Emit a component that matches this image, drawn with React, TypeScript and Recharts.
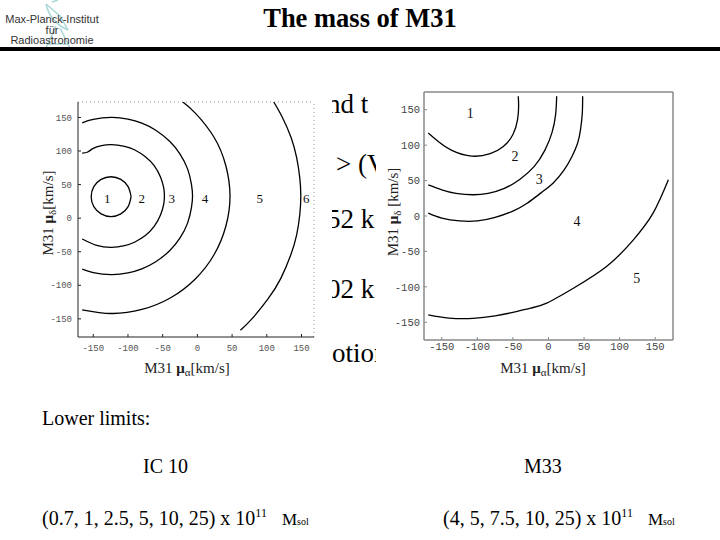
import React from 'react';
import { ScatterChart, Scatter, XAxis, YAxis, ReferenceLine, Label } from 'recharts';

const SERIF = '"Liberation Serif", "Times New Roman", serif';
const MONO = '"Liberation Mono", "DejaVu Sans Mono", monospace';
const SANS = '"Liberation Sans", Arial, sans-serif';

const axisTicks = [-150, -100, -50, 0, 50, 100, 150];

// IC 10 panel (left): contour lines
const ic10Contour1 = [
  { x: -95.5, y: 32 }, { x: -99.8, y: 46.9 }, { x: -110.3, y: 57.7 }, { x: -124.5, y: 61.7 },
  { x: -138.7, y: 57.7 }, { x: -149.2, y: 46.9 }, { x: -153, y: 32 }, { x: -149.2, y: 17.1 },
  { x: -138.7, y: 6.3 }, { x: -124.5, y: 2.3 }, { x: -110.3, y: 6.3 }, { x: -99.8, y: 17.1 },
  { x: -95.5, y: 32 },
];
const ic10Contour2 = [
  { x: -166, y: 97 }, { x: -158, y: 98.5 }, { x: -150, y: 104 }, { x: -138, y: 108 },
  { x: -124, y: 109.5 }, { x: -105, y: 107 }, { x: -90, y: 101.5 }, { x: -75, y: 91.5 },
  { x: -62, y: 78 }, { x: -53, y: 61 }, { x: -48.5, y: 45 }, { x: -47.5, y: 33 },
  { x: -48.5, y: 21 }, { x: -53, y: 5 }, { x: -62, y: -12 }, { x: -75, y: -26 },
  { x: -90, y: -35.5 }, { x: -105, y: -41 }, { x: -124, y: -43.5 }, { x: -145, y: -40.5 },
  { x: -166, y: -31 },
];
const ic10Contour3 = [
  { x: -166, y: 142 }, { x: -150, y: 147 }, { x: -124, y: 150 }, { x: -100, y: 147.5 },
  { x: -80, y: 141.5 }, { x: -60, y: 131 }, { x: -40, y: 114.5 }, { x: -25, y: 95.5 },
  { x: -14, y: 73 }, { x: -8.5, y: 50 }, { x: -7, y: 33 }, { x: -8.5, y: 16 },
  { x: -14, y: -7 }, { x: -25, y: -29.5 }, { x: -40, y: -48.5 }, { x: -60, y: -65 },
  { x: -80, y: -75.5 }, { x: -100, y: -81.5 }, { x: -124, y: -84 }, { x: -150, y: -81 },
  { x: -166, y: -76 },
];
const ic10Contour4 = [
  { x: -21, y: 173 }, { x: -3, y: 156.5 }, { x: 24, y: 120.5 }, { x: 41, y: 78 },
  { x: 47, y: 33 }, { x: 41, y: -12 }, { x: 24, y: -54.5 }, { x: -3, y: -90.5 },
  { x: -38.5, y: -118.5 }, { x: -80, y: -136 }, { x: -124, y: -142 }, { x: -166, y: -136.5 },
];
const ic10Contour5 = [
  { x: 110, y: 173 }, { x: 122.5, y: 150 }, { x: 135, y: 120 }, { x: 143, y: 90 },
  { x: 147.5, y: 60 }, { x: 149, y: 33 }, { x: 147.5, y: 5 }, { x: 143, y: -25 },
  { x: 134.5, y: -55 }, { x: 120, y: -90 }, { x: 102, y: -120 }, { x: 78.5, y: -150 },
  { x: 62, y: -167 },
];
const ic10Regions = [
  { x: -130, y: 30, t: '1' }, { x: -80, y: 30, t: '2' }, { x: -37, y: 30, t: '3' },
  { x: 11, y: 30, t: '4' }, { x: 90, y: 30, t: '5' }, { x: 157, y: 30, t: '6' },
];

// M33 panel (right)
const m33Contour1 = [
  { x: -169, y: 117 }, { x: -155, y: 105 }, { x: -136, y: 92.5 }, { x: -108, y: 84.5 },
  { x: -82, y: 88 }, { x: -63.5, y: 98 }, { x: -50, y: 115 }, { x: -43.5, y: 136 },
  { x: -42, y: 155 }, { x: -42.5, y: 169 },
];
const m33Contour2 = [
  { x: -169, y: 44 }, { x: -150, y: 37 }, { x: -130, y: 32 }, { x: -106, y: 30 },
  { x: -85, y: 32 }, { x: -62, y: 39 }, { x: -40, y: 52 }, { x: -20, y: 70 },
  { x: -5, y: 93 }, { x: 5, y: 118 }, { x: 10, y: 143 }, { x: 11.5, y: 169 },
];
const m33Contour3 = [
  { x: -169, y: 4 }, { x: -150, y: -3 }, { x: -125, y: -7 }, { x: -100, y: -7 },
  { x: -75, y: -2 }, { x: -50, y: 7 }, { x: -30, y: 18 }, { x: -10, y: 33 },
  { x: 7, y: 47 }, { x: 22, y: 65 }, { x: 33, y: 84 }, { x: 41, y: 103 },
  { x: 45, y: 122 }, { x: 47.5, y: 145 }, { x: 48, y: 169 },
];
const m33Contour4 = [
  { x: -169, y: -139.5 }, { x: -140, y: -144 }, { x: -106, y: -144.5 }, { x: -75, y: -141 },
  { x: -50, y: -136 }, { x: -25, y: -130 }, { x: -2.5, y: -123 }, { x: 35, y: -102 },
  { x: 82, y: -71 }, { x: 119, y: -34 }, { x: 147, y: 4 }, { x: 168.5, y: 51 },
];
const m33Regions = [
  { x: -110, y: 145, t: '1' }, { x: -47, y: 84, t: '2' }, { x: -13, y: 51, t: '3' },
  { x: 40, y: -8, t: '4' }, { x: 124, y: -88, t: '5' },
];

const ic10Masses = '(0.7, 1, 2.5, 5, 10, 25) x 10';
const m33Masses = '(4, 5, 7.5, 10, 25) x 10';

const NoDot = () => <g />;

const regionLabel = (fontSize: number) => (props: any) => (
  <text x={props.cx} y={props.cy} textAnchor="middle" dominantBaseline="central"
    fontFamily={SERIF} fontSize={fontSize} fill="#111">{props.payload.t}</text>
);

function AxisTitle({ x, y, sub, rotate, gap }: any) {
  return (
    <text x={x} y={y} textAnchor="middle" dominantBaseline="central" fontFamily={SERIF}
      fontSize={15} fill="#222" transform={rotate ? `rotate(-90 ${x} ${y})` : undefined}>
      M31 <tspan fontWeight="bold">μ</tspan>
      <tspan fontSize={11} dy={4}>{sub}</tspan>
      <tspan dy={-4}>{gap ? ' ' : ''}[km/s]</tspan>
    </text>
  );
}

const contourLine = { stroke: '#000', strokeWidth: 1.3 };

function LeftPanel() {
  const contours = [ic10Contour1, ic10Contour2, ic10Contour3, ic10Contour4, ic10Contour5];
  return (
    <ScatterChart width={292} height={300} margin={{ top: 17, right: 18, bottom: 0, left: 0 }}>
      <ReferenceLine y={173} stroke="#999" strokeDasharray="1 3" />
      <ReferenceLine x={168} stroke="#999" strokeDasharray="1 3" />
      <XAxis type="number" dataKey="x" domain={[-172, 168]} ticks={axisTicks} allowDataOverflow
        interval={0} height={48} tickSize={-3} tickMargin={11}
        tick={{ fontFamily: MONO, fontSize: 9, fill: '#555' }}
        axisLine={{ stroke: '#222' }} tickLine={{ stroke: '#222' }}>
        <Label content={() => <AxisTitle x={147} y={283} sub="α" />} />
      </XAxis>
      <YAxis type="number" dataKey="y" domain={[-177, 173]} ticks={axisTicks} allowDataOverflow
        interval={0} width={38} tickSize={-3} tickMargin={9}
        tick={{ fontFamily: MONO, fontSize: 9, fill: '#555' }}
        axisLine={{ stroke: '#222' }} tickLine={{ stroke: '#222' }}>
        <Label content={() => <AxisTitle x={8} y={128} sub="δ" rotate />} />
      </YAxis>
      {contours.map((c, i) => (
        <Scatter key={i} data={c} fill="#000" line={contourLine} lineJointType="natural"
          shape={NoDot} isAnimationActive={false} />
      ))}
      <Scatter data={ic10Regions} fill="#000" shape={regionLabel(13)} isAnimationActive={false} />
    </ScatterChart>
  );
}

function RightPanel() {
  const contours = [m33Contour1, m33Contour2, m33Contour3, m33Contour4];
  return (
    <ScatterChart width={344} height={305} margin={{ top: 12, right: 47, bottom: 0, left: 0 }}>
      <ReferenceLine y={175} stroke="#888" strokeWidth={1.5} />
      <ReferenceLine x={175} stroke="#888" strokeWidth={1.5} />
      <XAxis type="number" dataKey="x" domain={[-175, 175]} ticks={axisTicks} allowDataOverflow
        interval={0} height={45} tickSize={-3} tickMargin={6}
        tick={{ fontFamily: MONO, fontSize: 10.5, fill: '#444' }}
        axisLine={{ stroke: '#888', strokeWidth: 1.5 }} tickLine={{ stroke: '#888' }}>
        <Label content={() => <AxisTitle x={167} y={288} sub="α" />} />
      </XAxis>
      <YAxis type="number" dataKey="y" domain={[-175, 175]} ticks={axisTicks} allowDataOverflow
        interval={0} width={48} tickSize={-3} tickMargin={7}
        tick={{ fontFamily: MONO, fontSize: 10.5, fill: '#444' }}
        axisLine={{ stroke: '#888', strokeWidth: 1.5 }} tickLine={{ stroke: '#888' }}>
        <Label content={() => <AxisTitle x={17} y={132} sub="δ" rotate gap />} />
      </YAxis>
      {contours.map((c, i) => (
        <Scatter key={i} data={c} fill="#000" line={contourLine} lineJointType="natural"
          shape={NoDot} isAnimationActive={false} />
      ))}
      <Scatter data={m33Regions} fill="#000" shape={regionLabel(14)} isAnimationActive={false} />
    </ScatterChart>
  );
}

const frag = (text: string, left: number, top: number) => (
  <div style={{ position: 'absolute', left, top, fontSize: 27, lineHeight: '27px', whiteSpace: 'pre', fontFamily: SERIF, color: '#000' }}>{text}</div>
);

function Masses({ text, left, top }: any) {
  return (
    <div style={{ position: 'absolute', left, top, fontSize: 20, lineHeight: '20px', whiteSpace: 'pre', fontFamily: SERIF, color: '#000' }}>
      {text}
      <span style={{ fontSize: 12, position: 'relative', top: -8 }}>11</span>
      {'   '}
      <span style={{ fontSize: 17 }}>M</span>
      <span style={{ fontSize: 10 }}>sol</span>
    </div>
  );
}

export default function App() {
  return (
    <div style={{ position: 'absolute', left: 0, top: 0, width: 720, height: 540, background: '#fff', overflow: 'hidden', fontFamily: SERIF }}>
      {/* logo */}
      <svg style={{ position: 'absolute', left: 0, top: 0 }} width={130} height={50}>
        <g stroke="#a9d6d6" strokeWidth={1.5} fill="none">
          <path d="M46 4 Q 50 22 68 30" />
          <path d="M46 4 L 60 16 L 68 30" />
          <path d="M52 2 L 58 0" />
          <path d="M56 26 L 46 48" />
          <path d="M60 28 L 70 48" />
          <path d="M48 44 L 68 44" />
        </g>
      </svg>
      <div style={{ position: 'absolute', left: 2, top: 14, width: 100, textAlign: 'center', fontFamily: SANS, fontSize: 11, lineHeight: '10.5px', color: '#333' }}>
        Max-Planck-Institut<br />für<br />Radioastronomie
      </div>
      <div style={{ position: 'absolute', left: 0, top: 5, width: 720, textAlign: 'center', fontWeight: 'bold', fontSize: 26.5, lineHeight: '27px' }}>The mass of M31</div>
      <div style={{ position: 'absolute', left: 0, top: 47, width: 720, height: 4, background: '#000' }} />

      {/* slide text partly hidden behind the two plots */}
      {frag('and t', 315, 91)}
      {frag('> (V', 336, 151)}
      {frag('52 k', 327, 206)}
      {frag('02 k', 327, 276)}
      {frag('motion', 311, 340)}

      <div style={{ position: 'absolute', left: 40, top: 85, width: 292, height: 300, background: '#fff' }}>
        <LeftPanel />
      </div>
      <div style={{ position: 'absolute', left: 376, top: 80, width: 344, height: 305, background: '#fff' }}>
        <RightPanel />
      </div>

      <div style={{ position: 'absolute', left: 42, top: 408, fontSize: 20, lineHeight: '20px' }}>Lower limits:</div>
      <div style={{ position: 'absolute', left: 143, top: 456, fontSize: 20, lineHeight: '20px' }}>IC 10</div>
      <div style={{ position: 'absolute', left: 524, top: 456, fontSize: 20, lineHeight: '20px' }}>M33</div>
      <Masses text={ic10Masses} left={42} top={508} />
      <Masses text={m33Masses} left={443} top={508} />
    </div>
  );
}
